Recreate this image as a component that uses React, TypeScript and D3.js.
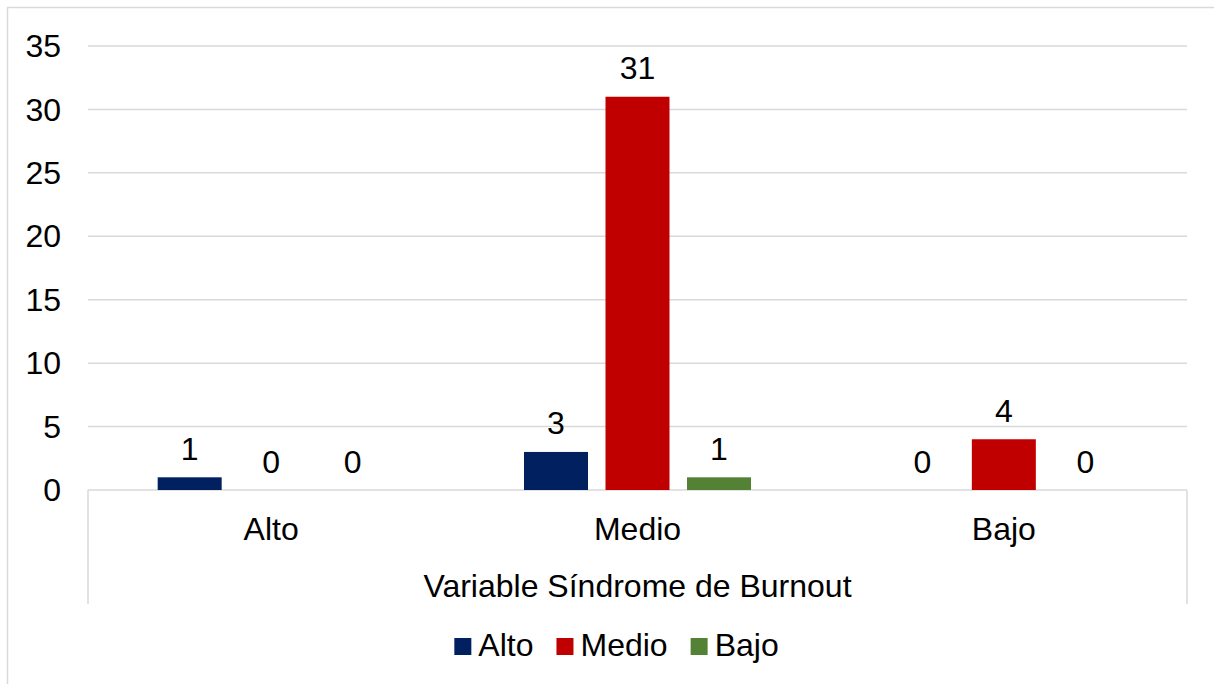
import React, { useEffect, useRef } from "react";
import * as d3 from "d3";

// Levels of the burnout syndrome variable (x categories)
const categories = ["Alto", "Medio", "Bajo"];
// Series shown as clustered bars inside each category
const seriesNames = ["Alto", "Medio", "Bajo"];
const seriesColors = ["#002060", "#C00000", "#548235"];
// Counts per series, one value for each category
const altoValues = [1, 3, 0];
const medioValues = [0, 31, 4];
const bajoValues = [0, 1, 0];
const yTicks = [0, 5, 10, 15, 20, 25, 30, 35];
const axisTitle = "Variable Síndrome de Burnout";

const W = 1214;
const H = 684;
const FONT = "Arial, 'Liberation Sans', sans-serif";
const FS = 32;
const GRID = "#d9d9d9";

export default function App() {
  const ref = useRef<SVGSVGElement | null>(null);

  useEffect(() => {
    const svg = d3.select(ref.current);
    svg.selectAll("*").remove();

    const left = 88;
    const right = 1187;
    const top = 46;
    const bottom = 490;

    const values = [altoValues, medioValues, bajoValues];

    const y = d3.scaleLinear().domain([0, 35]).range([bottom, top]);
    const x0 = d3.scaleBand<string>().domain(categories).range([left, right]).padding(0);
    const x1 = d3
      .scaleBand<string>()
      .domain(seriesNames)
      .range([0, x0.bandwidth()])
      .paddingInner(0.2147)
      .paddingOuter(0.855);

    // Chart frame
    svg
      .append("rect")
      .attr("x", 7.5)
      .attr("y", 7.5)
      .attr("width", 1400)
      .attr("height", 1000)
      .attr("fill", "white")
      .attr("stroke", GRID)
      .attr("stroke-width", 1.5);

    // Horizontal gridlines
    svg
      .append("g")
      .selectAll("line")
      .data(yTicks)
      .join("line")
      .attr("x1", left)
      .attr("x2", right)
      .attr("y1", (d) => y(d))
      .attr("y2", (d) => y(d))
      .attr("stroke", GRID)
      .attr("stroke-width", 1.5);

    // Y tick labels
    svg
      .append("g")
      .selectAll("text")
      .data(yTicks)
      .join("text")
      .attr("x", 61)
      .attr("y", (d) => y(d))
      .attr("dy", "0.35em")
      .attr("text-anchor", "end")
      .attr("font-family", FONT)
      .attr("font-size", FS)
      .attr("fill", "#000")
      .text((d) => String(d));

    // Outer edges of the category axis box
    [left, right].forEach((xx) => {
      svg
        .append("line")
        .attr("x1", xx)
        .attr("x2", xx)
        .attr("y1", bottom)
        .attr("y2", 604)
        .attr("stroke", GRID)
        .attr("stroke-width", 1.5);
    });

    // Bars and data labels
    const groups = svg
      .append("g")
      .selectAll("g")
      .data(categories)
      .join("g")
      .attr("transform", (c) => `translate(${x0(c)},0)`);

    groups.each(function (c, ci) {
      const g = d3.select(this);
      seriesNames.forEach((s, si) => {
        const v = values[si][ci];
        const bx = x1(s) as number;
        const bw = x1.bandwidth();
        if (v > 0) {
          g.append("rect")
            .attr("x", bx)
            .attr("y", y(v))
            .attr("width", bw)
            .attr("height", y(0) - y(v))
            .attr("fill", seriesColors[si]);
        }
        g.append("text")
          .attr("x", bx + bw / 2)
          .attr("y", y(v) - 17.5)
          .attr("text-anchor", "middle")
          .attr("font-family", FONT)
          .attr("font-size", FS)
          .attr("fill", "#000")
          .text(String(v));
      });
    });

    // Category labels
    svg
      .append("g")
      .selectAll("text")
      .data(categories)
      .join("text")
      .attr("x", (c) => (x0(c) as number) + x0.bandwidth() / 2)
      .attr("y", 540)
      .attr("text-anchor", "middle")
      .attr("font-family", FONT)
      .attr("font-size", FS)
      .attr("fill", "#000")
      .text((c) => c);

    // Axis group title
    svg
      .append("text")
      .attr("x", (left + right) / 2)
      .attr("y", 597)
      .attr("text-anchor", "middle")
      .attr("font-family", FONT)
      .attr("font-size", FS)
      .attr("fill", "#000")
      .text(axisTitle);

    // Legend, centred under the plot
    const legend = svg.append("g");
    const sq = 17;
    const gapText = 7;
    const gapItem = 23;
    let cursor = 0;
    seriesNames.forEach((s, i) => {
      const item = legend.append("g").attr("transform", `translate(${cursor},0)`);
      item
        .append("rect")
        .attr("x", 0)
        .attr("y", -18)
        .attr("width", sq)
        .attr("height", sq)
        .attr("fill", seriesColors[i]);
      const t = item
        .append("text")
        .attr("x", sq + gapText)
        .attr("y", 0)
        .attr("font-family", FONT)
        .attr("font-size", FS)
        .attr("fill", "#000")
        .text(s);
      const tw = (t.node() as SVGTextElement).getComputedTextLength();
      cursor += sq + gapText + tw + gapItem;
    });
    const total = cursor - gapItem;
    legend.attr("transform", `translate(${616.5 - total / 2},656)`);
  }, []);

  return (
    <svg
      ref={ref}
      width={W}
      height={H}
      style={{ position: "absolute", left: 0, top: 0, background: "white" }}
    />
  );
}
